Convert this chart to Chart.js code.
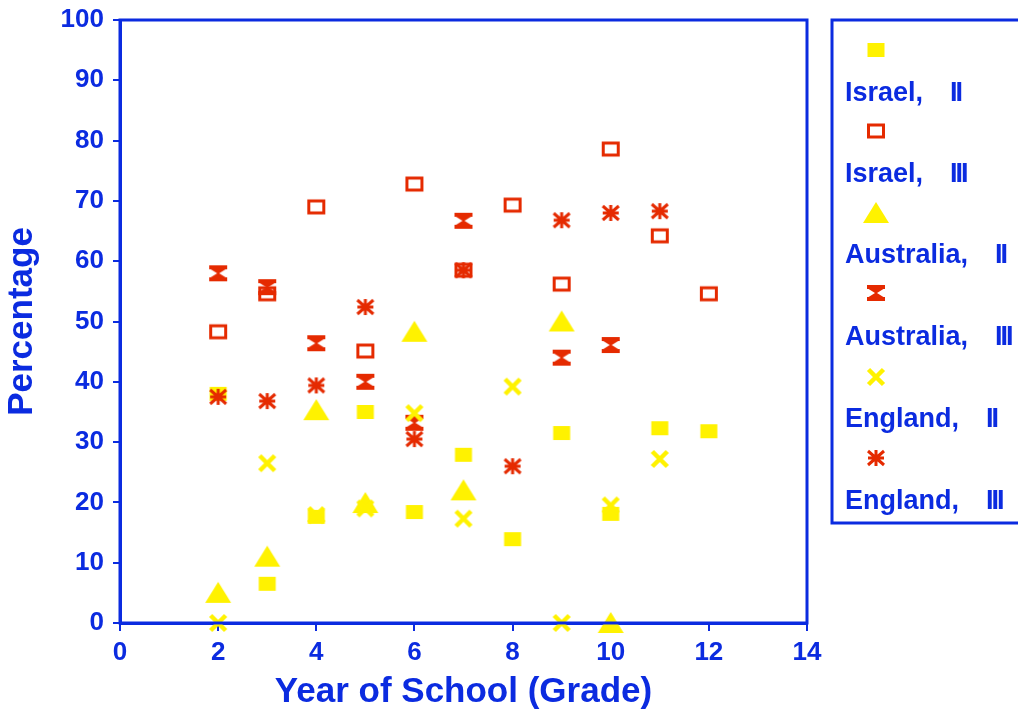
<!DOCTYPE html>
<html>
<head>
<meta charset="utf-8">
<script src="https://cdn.jsdelivr.net/npm/chart.js@4/dist/chart.umd.min.js"></script>
<style>
  html, body { margin: 0; padding: 0; background: #fff; }
  #wrap { width: 1018px; height: 715px; }
</style>
</head>
<body>
<div id="wrap"><canvas id="schoolChart" width="1018" height="715"></canvas></div>
<script>
// --- data
const grades      = [2, 3, 4, 5, 6, 7, 8, 9, 10, 11, 12];
const israelII    = [38, 6.5, 17.6, 35, 18.4, 27.9, 13.9, 31.5, 18.1, 32.3, 31.8];
const israelIII   = [48.3, 54.6, 69, 45.1, 72.8, 58.5, 69.3, 56.2, 78.6, 64.2, 54.6];
const ausGrades   = [2, 3, 4, 5, 6, 7, 9, 10];
const australiaII = [5, 11, 35.3, 19.9, 48.3, 22, 50, 0];
const australiaIII= [58, 55.7, 46.4, 40, 33.2, 66.7, 44, 46.1];
const engGrades   = [2, 3, 4, 5, 6, 7, 8, 9, 10, 11];
const englandII   = [0, 26.5, 17.9, 19, 34.8, 17.3, 39.2, 0, 19.5, 27.2];
const englandIII  = [37.5, 36.8, 39.4, 52.4, 30.5, 58.5, 26, 66.8, 68, 68.3];
const countries   = ["Israel,", "Israel,", "Australia,", "Australia,", "England,", "England,"];
const levels      = ["II", "III", "II", "III", "II", "III"];
const xTicks = [0, 2, 4, 6, 8, 10, 12, 14];
const yTicks = [0, 10, 20, 30, 40, 50, 60, 70, 80, 90, 100];

const BLUE = "#0b2be0";
const YELLOW = "#fff200";
const RED = "#e52a00";
const FONT = "'Liberation Sans', Arial, sans-serif";

function makeMarker(kind) {
    const c = document.createElement("canvas");
    c.width = 28; c.height = 24;
    const g = c.getContext("2d");
    const cx = 14, cy = 12;
    if (kind === "square") {
        g.fillStyle = YELLOW;
        g.fillRect(cx - 8.5, cy - 7, 17, 14);
    } else if (kind === "hollow") {
        g.strokeStyle = RED; g.lineWidth = 3;
        g.strokeRect(cx - 7.5, cy - 6, 15, 12);
    } else if (kind === "triangle") {
        g.fillStyle = YELLOW;
        g.beginPath();
        g.moveTo(cx, cy - 11); g.lineTo(cx + 13, cy + 10); g.lineTo(cx - 13, cy + 10);
        g.closePath(); g.fill();
    } else if (kind === "hourglass") {
        g.fillStyle = RED;
        g.fillRect(cx - 9, cy - 8, 18, 4);
        g.fillRect(cx - 9, cy + 4, 18, 4);
        g.beginPath();
        g.moveTo(cx - 9, cy - 5); g.lineTo(cx + 9, cy - 5); g.lineTo(cx + 1, cy);
        g.lineTo(cx + 9, cy + 5); g.lineTo(cx - 9, cy + 5); g.lineTo(cx - 1, cy);
        g.closePath(); g.fill();
    } else if (kind === "cross") {
        g.strokeStyle = YELLOW; g.lineWidth = 4.5;
        g.beginPath();
        g.moveTo(cx - 7.5, cy - 7.5); g.lineTo(cx + 7.5, cy + 7.5);
        g.moveTo(cx + 7.5, cy - 7.5); g.lineTo(cx - 7.5, cy + 7.5);
        g.stroke();
    } else if (kind === "asterisk") {
        g.strokeStyle = RED; g.lineWidth = 3;
        g.beginPath();
        g.moveTo(cx - 8, cy - 7); g.lineTo(cx + 8, cy + 7);
        g.moveTo(cx + 8, cy - 7); g.lineTo(cx - 8, cy + 7);
        g.moveTo(cx, cy - 8); g.lineTo(cx, cy + 8);
        g.moveTo(cx - 8, cy); g.lineTo(cx + 8, cy);
        g.stroke();
    }
    return c;
}

const markers = ["square", "hollow", "triangle", "hourglass", "cross", "asterisk"].map(makeMarker);

function pts(xs, ys) {
    return ys.map((v, i) => ({ x: xs[i], y: v }));
}

const datasets = [
    pts(grades, israelII), pts(grades, israelIII),
    pts(ausGrades, australiaII), pts(ausGrades, australiaIII),
    pts(engGrades, englandII), pts(engGrades, englandIII)
].map((d, i) => ({
    label: countries[i] + " " + levels[i],
    data: d,
    pointStyle: markers[i],
    order: 5 - i,
    clip: false,
    pointRadius: 10,
    pointHoverRadius: 10
}));

// frame round the plot and the legend box on the right
const framePlugin = {
    id: "frame",
    afterDraw(chart) {
        const ctx = chart.ctx;
        const a = chart.chartArea;
        ctx.save();
        ctx.strokeStyle = BLUE;
        ctx.lineWidth = 3;
        ctx.strokeRect(a.left, a.top, a.right - a.left, a.bottom - a.top);

        ctx.strokeRect(832, 20, 200, 503);
        ctx.fillStyle = BLUE;
        ctx.font = "bold 27px " + FONT;
        ctx.textBaseline = "alphabetic";
        const markY = [50, 131, 213, 293, 377, 458];
        const textY = [101, 182, 263, 345, 427, 509];
        countries.forEach((name, i) => {
            const m = markers[i];
            ctx.drawImage(m, 876 - m.width / 2, markY[i] - m.height / 2);
            ctx.letterSpacing = "0px";
            ctx.fillText(name, 845, textY[i]);
            const w = ctx.measureText(name).width;
            ctx.letterSpacing = "-2px";
            ctx.fillText(levels[i], 845 + w + 27, textY[i]);
        });
        ctx.restore();
    }
};

new Chart(document.getElementById("schoolChart"), {
    type: "scatter",
    data: { datasets: datasets },
    options: {
        responsive: false,
        animation: false,
        layout: { padding: { left: 0, top: 20, right: 211, bottom: 0 } },
        plugins: {
            legend: { display: false },
            tooltip: { enabled: false }
        },
        scales: {
            x: {
                type: "linear",
                min: 0, max: 14,
                afterBuildTicks: s => { s.ticks = xTicks.map(v => ({ value: v })); },
                afterFit: s => { s.height = 92; s.paddingLeft = 0; s.paddingRight = 0; },
                border: { color: BLUE, width: 3 },
                grid: { drawOnChartArea: false, drawTicks: true, tickLength: 8, color: BLUE, lineWidth: 2 },
                ticks: { color: BLUE, font: { family: FONT, size: 26, weight: "bold" }, padding: 6 },
                title: {
                    display: true, text: "Year of School (Grade)", color: BLUE,
                    font: { family: FONT, size: 35, weight: "bold" }, padding: { top: 0, bottom: 2 }
                }
            },
            y: {
                min: 0, max: 100,
                afterBuildTicks: s => { s.ticks = yTicks.map(v => ({ value: v })); },
                afterFit: s => { s.width = 120; s.paddingTop = 0; s.paddingBottom = 0; },
                border: { color: BLUE, width: 3 },
                grid: { drawOnChartArea: false, drawTicks: true, tickLength: 7, color: BLUE, lineWidth: 2 },
                ticks: { color: BLUE, font: { family: FONT, size: 26, weight: "bold" }, padding: 9 },
                title: {
                    display: true, text: "Percentage", color: BLUE,
                    font: { family: FONT, size: 35, weight: "bold" }, padding: { top: 1, bottom: 0 }
                }
            }
        }
    },
    plugins: [framePlugin]
});
</script>
</body>
</html>
